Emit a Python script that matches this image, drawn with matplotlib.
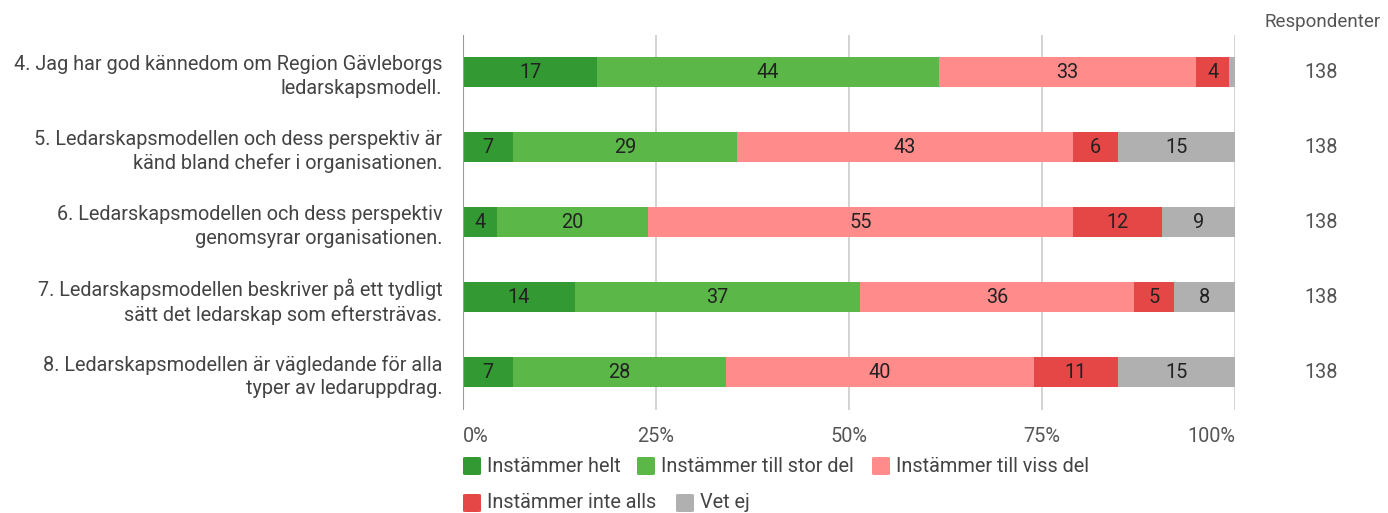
import numpy as np
import matplotlib.pyplot as plt
import matplotlib.transforms as mtransforms
from matplotlib.patches import FancyBboxPatch

plt.rcParams['font.family'] = ['Roboto', 'DejaVu Sans']

# -----------------------------
# data (number of answers per statement, 138 respondents each)
# -----------------------------
statements = [
    "4. Jag har god kännedom om Region Gävleborgs\nledarskapsmodell.",
    "5. Ledarskapsmodellen och dess perspektiv är\nkänd bland chefer i organisationen.",
    "6. Ledarskapsmodellen och dess perspektiv\ngenomsyrar organisationen.",
    "7. Ledarskapsmodellen beskriver på ett tydligt\nsätt det ledarskap som eftersträvas.",
    "8. Ledarskapsmodellen är vägledande för alla\ntyper av ledaruppdrag.",
]
answers = ["Instämmer helt", "Instämmer till stor del", "Instämmer till viss del",
           "Instämmer inte alls", "Vet ej"]
helt = [24, 9, 6, 20, 9]
stor = [61, 40, 27, 51, 38]
viss = [46, 60, 76, 49, 55]
inte = [6, 8, 16, 7, 15]
vetej = [1, 21, 13, 11, 21]
respondents = [138, 138, 138, 138, 138]

colors = ["#339933", "#5bb748", "#ff8b8b", "#e54646", "#b0b0b0"]

counts = np.array([helt, stor, viss, inte, vetej], dtype=float)
pct = counts / np.array(respondents) * 100

FS = 14.3

# -----------------------------
# plot
# -----------------------------
fig = plt.figure(figsize=(13.88, 5.13), dpi=100)
ax = fig.add_axes([0.3336, 0.2008, 0.5562, 0.731])

y = np.arange(len(statements))
left = np.zeros(len(statements))
for k in range(len(answers)):
    ax.barh(y, pct[k], left=left, height=0.4, color=colors[k], zorder=3)
    for i in range(len(statements)):
        if pct[k][i] >= 2.5:
            ax.text(left[i] + pct[k][i] / 2, y[i], str(int(round(pct[k][i] + 1e-9))),
                    ha="center", va="center", fontsize=FS, color="#222222", zorder=4)
    left += pct[k]

ax.set_xlim(0, 100)
ax.set_ylim(len(statements) - 0.5, -0.5)
ax.set_xticks([0, 25, 50, 75, 100])
ax.set_xticklabels(["0%", "25%", "50%", "75%", "100%"], fontsize=FS, color="#555555")
xt = ax.get_xticklabels()
xt[0].set_horizontalalignment("left")
xt[0].set_transform(xt[0].get_transform() +
                    mtransforms.ScaledTranslation(-3 / 100, 0, fig.dpi_scale_trans))
xt[-1].set_horizontalalignment("right")
xt[-1].set_transform(xt[-1].get_transform() +
                     mtransforms.ScaledTranslation(5 / 100, 0, fig.dpi_scale_trans))
ax.set_yticks(y)
ax.set_yticklabels(statements, fontsize=FS, color="#444444", linespacing=1.3)
ax.tick_params(axis="y", length=0, pad=15)
ax.tick_params(axis="x", length=0, pad=12)
for s in ax.spines.values():
    s.set_visible(False)
ax.grid(axis="x", color="#cccccc", linewidth=1.2, zorder=0)
ax.axvline(0, color="#999999", linewidth=1.5, zorder=5)

# respondents column
fig.text(1323 / 1388, 1 - 22 / 513, "Respondenter", ha="center", va="center",
         fontsize=13.5, color="#555555")
for i in range(len(statements)):
    ax.text(1.111, y[i], str(respondents[i]), transform=ax.get_yaxis_transform(),
            ha="center", va="center", fontsize=FS, color="#555555")

# legend drawn by hand (two rows, like the original)
leg_pos = [(463, 466), (637, 466), (872, 466), (463, 503), (676, 503)]
for k, (px, py) in enumerate(leg_pos):
    fig.patches.append(FancyBboxPatch((px / 1388, 1 - (py + 9) / 513), 18 / 1388, 18 / 513,
                                      boxstyle="round,pad=0,rounding_size=0.002",
                                      transform=fig.transFigure, facecolor=colors[k],
                                      edgecolor="none"))
    fig.text((px + 24) / 1388, 1 - py / 513, answers[k], ha="left", va="center",
             fontsize=FS, color="#444444")

fig.savefig("out.png", dpi=100)
